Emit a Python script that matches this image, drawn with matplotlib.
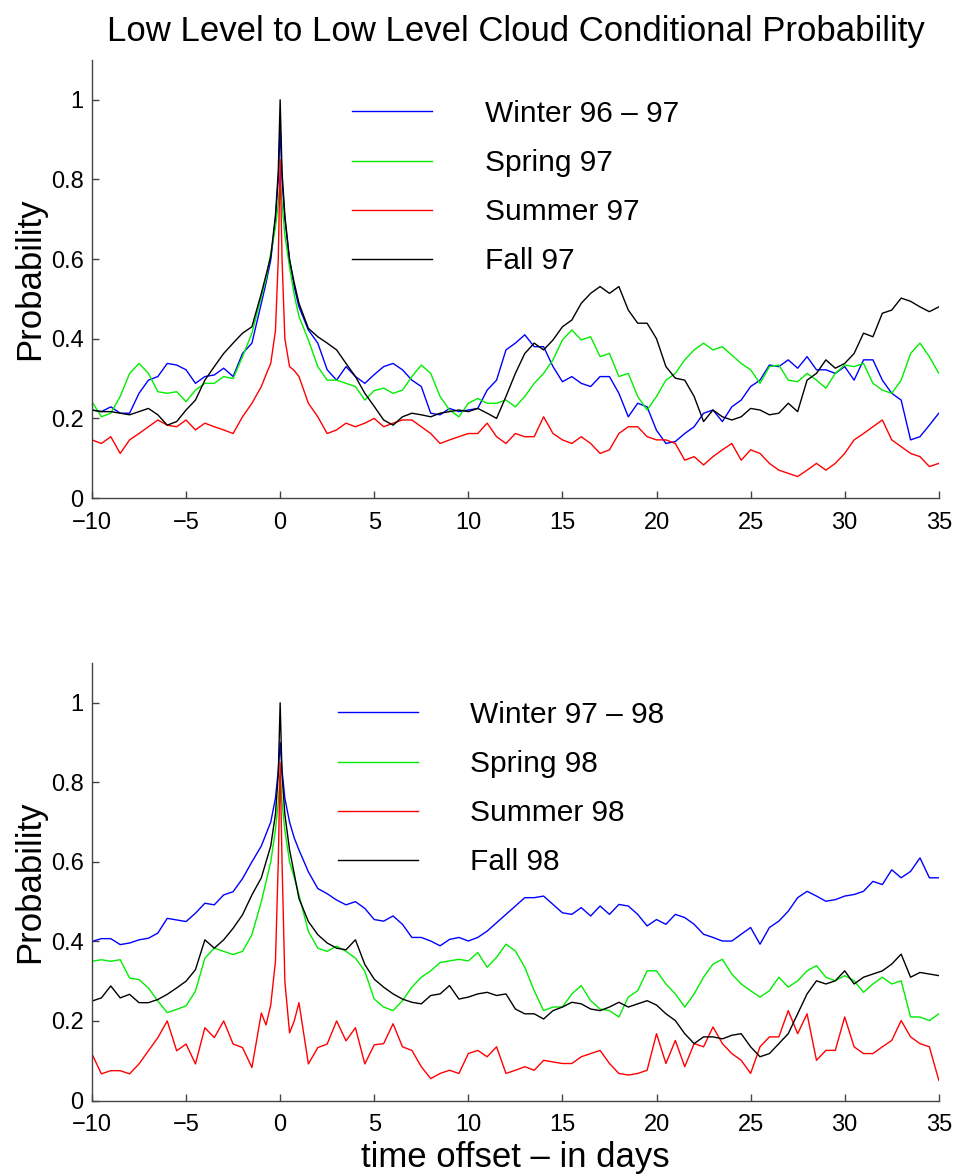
import numpy as np
import matplotlib
matplotlib.use("Agg")
import matplotlib.pyplot as plt

plt.rcParams['font.family'] = ['Liberation Sans', 'DejaVu Sans']

# ---- time grid (days) ----
T_LEFT = [-10, -9.5, -9, -8.5, -8, -7.5, -7, -6.5, -6, -5.5, -5, -4.5, -4, -3.5,
          -3, -2.5, -2, -1.5, -1]
T_MID = [-0.75, -0.5, -0.25, -0.1, 0, 0.1, 0.25, 0.5, 0.75]
T_RIGHT = [1 + 0.5 * i for i in range(69)]
time_days = T_LEFT + T_MID + T_RIGHT

# ---- top panel: 1996-97 ----
winter_96_97 = [0.221, 0.217, 0.229, 0.213, 0.213, 0.263, 0.296, 0.305, 0.338, 0.334, 0.322, 0.288, 0.305, 0.309, 0.326, 0.305, 0.363, 0.389, 0.489,
                0.54, 0.598, 0.70, 0.80, 0.93, 0.80, 0.70, 0.598, 0.53,
                0.48, 0.422, 0.389, 0.322, 0.296, 0.33, 0.305, 0.288,
                0.31, 0.33, 0.338, 0.322, 0.296, 0.28, 0.213, 0.209, 0.225, 0.217, 0.221, 0.225, 0.271, 0.296, 0.372, 0.389, 0.41, 0.38, 0.38, 0.33,
                0.292, 0.305, 0.288, 0.28, 0.305, 0.305, 0.263, 0.204, 0.238, 0.229,
                0.17, 0.137, 0.142, 0.162, 0.179, 0.213, 0.221, 0.192, 0.229, 0.246, 0.28, 0.296, 0.334, 0.33, 0.347, 0.326, 0.355, 0.322, 0.322, 0.313,
                0.33, 0.296, 0.347, 0.347, 0.296, 0.263, 0.246, 0.146, 0.154, 0.183, 0.213]
spring_97 = [0.242, 0.204, 0.213, 0.255, 0.313, 0.338, 0.313, 0.267, 0.263, 0.267, 0.242, 0.271, 0.288, 0.288, 0.305, 0.30, 0.355, 0.414, 0.506,
             0.55, 0.615, 0.68, 0.74, 0.80, 0.74, 0.66, 0.58, 0.51,
             0.456, 0.397, 0.33, 0.296, 0.296, 0.288, 0.28, 0.246,
             0.27, 0.276, 0.263, 0.271, 0.305, 0.334, 0.313, 0.255, 0.221, 0.204, 0.238, 0.25, 0.238, 0.238, 0.246, 0.229, 0.255, 0.288, 0.313, 0.347,
             0.397, 0.422, 0.397, 0.405, 0.355, 0.363, 0.305, 0.313, 0.255, 0.221,
             0.255, 0.296, 0.313, 0.347, 0.372, 0.389, 0.372, 0.38, 0.359, 0.338, 0.322, 0.288, 0.33, 0.334, 0.296, 0.292, 0.313, 0.296, 0.276, 0.313,
             0.334, 0.33, 0.338, 0.288, 0.271, 0.263, 0.296, 0.363, 0.389, 0.355, 0.313]
summer_97 = [0.146, 0.137, 0.154, 0.112, 0.146, 0.162, 0.179, 0.196, 0.183, 0.179, 0.196, 0.171, 0.188, 0.179, 0.171, 0.162, 0.204, 0.238, 0.28,
             0.31, 0.338, 0.42, 0.60, 0.85, 0.60, 0.40, 0.33, 0.32,
             0.305, 0.238, 0.204, 0.162, 0.171, 0.188, 0.179, 0.188,
             0.20, 0.179, 0.188, 0.196, 0.196, 0.179, 0.162, 0.137, 0.146, 0.154, 0.162, 0.162, 0.188, 0.154, 0.137, 0.162, 0.154, 0.154, 0.204, 0.162,
             0.146, 0.137, 0.154, 0.137, 0.112, 0.121, 0.162, 0.179, 0.179, 0.154,
             0.146, 0.146, 0.137, 0.095, 0.104, 0.083, 0.104, 0.121, 0.137, 0.095, 0.121, 0.112, 0.087, 0.07, 0.062, 0.054, 0.07, 0.087, 0.07, 0.087,
             0.112, 0.146, 0.162, 0.179, 0.196, 0.146, 0.129, 0.112, 0.104, 0.079, 0.087]
fall_97 = [0.221, 0.217, 0.217, 0.213, 0.209, 0.217, 0.225, 0.209, 0.183, 0.192, 0.221, 0.246, 0.296, 0.33, 0.363, 0.389, 0.414, 0.43, 0.514,
           0.56, 0.606, 0.71, 0.82, 1.0, 0.82, 0.71, 0.598, 0.54,
           0.489, 0.426, 0.405, 0.389, 0.372, 0.338, 0.305, 0.263,
           0.23, 0.196, 0.183, 0.204, 0.213, 0.209, 0.204, 0.213, 0.217, 0.221, 0.217, 0.225, 0.213, 0.20, 0.255, 0.313, 0.363, 0.389, 0.372, 0.397,
           0.43, 0.447, 0.489, 0.514, 0.531, 0.514, 0.531, 0.472, 0.439, 0.439,
           0.40, 0.33, 0.301, 0.296, 0.255, 0.192, 0.221, 0.204, 0.196, 0.204, 0.225, 0.221, 0.209, 0.213, 0.238, 0.217, 0.296, 0.313, 0.347, 0.326,
           0.338, 0.363, 0.414, 0.405, 0.464, 0.472, 0.502, 0.494, 0.48, 0.468, 0.48]

# ---- bottom panel: 1997-98 ----
winter_97_98 = [0.40, 0.407, 0.407, 0.392, 0.396, 0.404, 0.408, 0.421, 0.458, 0.454, 0.45, 0.471, 0.496, 0.492, 0.517, 0.525, 0.558, 0.60, 0.64,
                0.67, 0.70, 0.76, 0.83, 0.90, 0.83, 0.76, 0.70, 0.66,
                0.63, 0.575, 0.533, 0.52, 0.504, 0.492, 0.50, 0.483,
                0.455, 0.451, 0.464, 0.443, 0.41, 0.41, 0.401, 0.389, 0.405, 0.41, 0.401, 0.41, 0.426, 0.447, 0.468, 0.489, 0.51, 0.51, 0.514, 0.493,
                0.472, 0.468, 0.485, 0.464, 0.489, 0.468, 0.493, 0.489, 0.468, 0.439,
                0.455, 0.443, 0.468, 0.46, 0.443, 0.418, 0.41, 0.401, 0.401, 0.418, 0.435, 0.393, 0.435, 0.451, 0.476, 0.51, 0.526, 0.514, 0.501, 0.505,
                0.514, 0.518, 0.526, 0.551, 0.543, 0.58, 0.56, 0.576, 0.61, 0.56, 0.56]
spring_98 = [0.35, 0.354, 0.35, 0.354, 0.308, 0.304, 0.283, 0.25, 0.221, 0.229, 0.238, 0.275, 0.358, 0.383, 0.375, 0.367, 0.375, 0.417, 0.50,
             0.55, 0.60, 0.68, 0.75, 0.82, 0.75, 0.68, 0.60, 0.56,
             0.517, 0.425, 0.383, 0.375, 0.388, 0.375, 0.358, 0.325,
             0.255, 0.235, 0.226, 0.251, 0.285, 0.31, 0.326, 0.347, 0.351, 0.355, 0.351, 0.372, 0.335, 0.36, 0.393, 0.376, 0.335, 0.276, 0.226, 0.235,
             0.235, 0.268, 0.289, 0.251, 0.23, 0.226, 0.21, 0.26, 0.276, 0.326,
             0.326, 0.293, 0.268, 0.235, 0.268, 0.31, 0.343, 0.355, 0.318, 0.293, 0.276, 0.26, 0.276, 0.31, 0.285, 0.301, 0.326, 0.339, 0.31, 0.301,
             0.314, 0.301, 0.272, 0.293, 0.31, 0.293, 0.301, 0.21, 0.21, 0.201, 0.218]
summer_98 = [0.117, 0.067, 0.075, 0.075, 0.067, 0.092, 0.125, 0.158, 0.20, 0.125, 0.142, 0.092, 0.183, 0.158, 0.20, 0.142, 0.133, 0.083, 0.22,
             0.19, 0.24, 0.35, 0.6, 0.85, 0.6, 0.3, 0.17, 0.2,
             0.246, 0.092, 0.133, 0.142, 0.20, 0.15, 0.183, 0.092,
             0.14, 0.143, 0.193, 0.135, 0.126, 0.085, 0.055, 0.068, 0.076, 0.068, 0.118, 0.126, 0.11, 0.135, 0.068, 0.076, 0.085, 0.076, 0.101, 0.097,
             0.093, 0.093, 0.11, 0.118, 0.126, 0.093, 0.068, 0.064, 0.068, 0.076,
             0.168, 0.093, 0.151, 0.085, 0.143, 0.135, 0.185, 0.143, 0.118, 0.101, 0.068, 0.135, 0.16, 0.16, 0.226, 0.168, 0.218, 0.101, 0.126, 0.126,
             0.21, 0.135, 0.118, 0.118, 0.135, 0.151, 0.201, 0.16, 0.143, 0.135, 0.051]
fall_98 = [0.25, 0.258, 0.288, 0.258, 0.267, 0.246, 0.246, 0.254, 0.267, 0.283, 0.30, 0.329, 0.404, 0.383, 0.404, 0.433, 0.467, 0.517, 0.56,
           0.60, 0.64, 0.72, 0.82, 1.0, 0.82, 0.72, 0.63, 0.57,
           0.508, 0.45, 0.417, 0.396, 0.383, 0.379, 0.404, 0.342,
           0.305, 0.285, 0.268, 0.255, 0.247, 0.243, 0.264, 0.268, 0.289, 0.255, 0.26, 0.268, 0.272, 0.264, 0.268, 0.23, 0.218, 0.218, 0.205, 0.226,
           0.235, 0.247, 0.243, 0.23, 0.226, 0.235, 0.247, 0.235, 0.243, 0.251,
           0.24, 0.218, 0.201, 0.168, 0.143, 0.16, 0.16, 0.155, 0.164, 0.168, 0.135, 0.11, 0.118, 0.143, 0.168, 0.218, 0.268, 0.301, 0.293, 0.301,
           0.326, 0.293, 0.31, 0.318, 0.326, 0.343, 0.368, 0.31, 0.322, 0.318, 0.314]

labels_top = ["Winter 96 \u2013 97", "Spring 97", "Summer 97", "Fall 97"]
labels_bot = ["Winter 97 \u2013 98", "Spring 98", "Summer 98", "Fall 98"]
colors = ["#0000ff", "#00ee00", "#ff0000", "#000000"]

x_ticks = [-10, -5, 0, 5, 10, 15, 20, 25, 30, 35]
y_ticks = [0, 0.2, 0.4, 0.6, 0.8, 1]
y_ticklabels = ["0", "0.2", "0.4", "0.6", "0.8", "1"]

fig = plt.figure(figsize=(9.56, 11.76), dpi=100)
ax1 = fig.add_axes([0.0962, 0.5765, 0.8858, 0.3725])
ax2 = fig.add_axes([0.0962, 0.0642, 0.8858, 0.3720])


def style(ax):
    ax.set_xlim(-10, 35)
    ax.set_ylim(0, 1.1)
    ax.set_xticks(x_ticks)
    ax.set_yticks(y_ticks)
    ax.set_yticklabels(y_ticklabels)
    ax.spines['top'].set_visible(False)
    ax.spines['right'].set_visible(False)
    for s in ('left', 'bottom'):
        ax.spines[s].set_color('#444444')
        ax.spines[s].set_linewidth(1.0)
    ax.tick_params(direction='in', length=5, width=1, color='#444444',
                   labelsize=17)
    ax.tick_params(axis='x', pad=10)
    ax.tick_params(axis='y', pad=6)
    ax.set_ylabel("Probability", fontsize=25, labelpad=3)


series_top = [winter_96_97, spring_97, summer_97, fall_97]
series_bot = [winter_97_98, spring_98, summer_98, fall_98]

for ys, lab, c in zip(series_top, labels_top, colors):
    ax1.plot(time_days, ys, color=c, lw=1.0, label=lab)
for ys, lab, c in zip(series_bot, labels_bot, colors):
    ax2.plot(time_days, ys, color=c, lw=1.0, label=lab)

style(ax1)
style(ax2)

leg_kw = dict(frameon=False, fontsize=21.5, handlelength=2.68, handletextpad=1.77,
              labelspacing=0.71, borderpad=0, borderaxespad=0, loc='upper left')
ax1.legend(bbox_to_anchor=(0.307, 0.909), **leg_kw)
ax2.legend(bbox_to_anchor=(0.290, 0.9136), **leg_kw)

ax1.set_title("Low Level to Low Level Cloud Conditional Probability",
              fontsize=25, pad=14)
ax2.set_xlabel("time offset \u2013 in days", fontsize=25, labelpad=3)

fig.savefig("out.png", dpi=100)
